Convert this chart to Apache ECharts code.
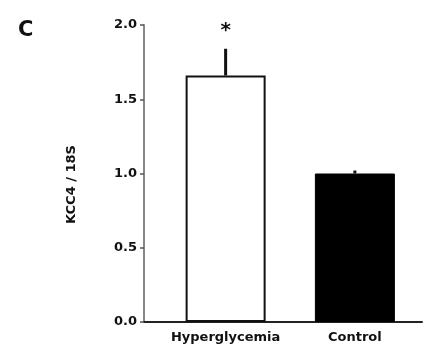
<!DOCTYPE html>
<html>
<head>
<meta charset="utf-8">
<script src="https://cdn.jsdelivr.net/npm/echarts@6/dist/echarts.min.js"></script>
<style>html,body{margin:0;padding:0;background:#fff;}#c{width:428px;height:352px;}</style>
</head>
<body>
<div id="c"></div>
<script>
const categories = ['Hyperglycemia', 'Control'];
const means = [1.66, 1.0];
const errUpper = [1.84, 1.02];
const sigMarks = ['*', ''];
const yTicks = [0, 0.5, 1.0, 1.5, 2.0];

const chart = echarts.init(document.getElementById('c'), null, {renderer: 'canvas'});
const font = 'DejaVu Sans';
chart.setOption({
  animation: false,
  backgroundColor: '#fff',
  title: {text: 'C', left: 13, top: 15, textStyle: {fontFamily: font, fontWeight: 'bold', fontSize: 21, color: '#111'}},
  grid: [
    {left: 161, right: 8.5, top: 25, bottom: 30},
    {left: 144, right: 6, top: 25, bottom: 30}
  ],
  xAxis: [
    {type: 'category', gridIndex: 0, data: categories,
      axisLine: {show: false}, axisTick: {show: false},
      axisLabel: {interval: 0, fontFamily: font, fontWeight: 'bold', fontSize: 13, color: '#111', margin: 9}},
    {type: 'value', gridIndex: 1, min: 0, max: 1,
      axisLine: {show: true, lineStyle: {color: '#222', width: 2}},
      axisTick: {show: false}, axisLabel: {show: false}, splitLine: {show: false}}
  ],
  yAxis: [
    {type: 'value', gridIndex: 0, min: yTicks[0], max: yTicks[yTicks.length - 1], interval: 0.5, offset: 17,
      name: 'KCC4 / 18S', nameLocation: 'middle', nameGap: 66, nameRotate: 90,
      nameTextStyle: {fontFamily: font, fontWeight: 'bold', fontSize: 13, color: '#111', padding: [0, 0, 0, -22]},
      axisLine: {show: true, lineStyle: {color: '#888', width: 2}},
      axisTick: {show: true, length: 4, lineStyle: {color: '#555', width: 1.5}},
      axisLabel: {fontFamily: font, fontWeight: 'bold', fontSize: 13, color: '#111', margin: 7,
        formatter: v => v.toFixed(1)},
      splitLine: {show: false}},
    {type: 'value', gridIndex: 1, min: 0, max: 1, show: false}
  ],
  series: [
    {type: 'bar', xAxisIndex: 0, yAxisIndex: 0, barWidth: 80,
      data: means.map((v, i) => ({value: v, itemStyle: i === 0
        ? {color: '#fff', borderColor: '#111', borderWidth: 2}
        : {color: '#000', borderColor: '#000', borderWidth: 1}}))},
    {type: 'custom', xAxisIndex: 0, yAxisIndex: 0, z: 5,
      data: categories.map((c, i) => [i, means[i], errUpper[i], sigMarks[i]]),
      renderItem: function (params, api) {
        const x = api.value(0);
        const base = api.coord([x, api.value(1)]);
        const top = api.coord([x, api.value(2)]);
        const children = [{
          type: 'line', shape: {x1: base[0], y1: base[1], x2: top[0], y2: top[1]},
          style: {stroke: '#111', lineWidth: 3}
        }];
        const mark = sigMarks[params.dataIndex];
        if (mark) {
          children.push({type: 'text', style: {text: mark, x: top[0], y: top[1] - 8,
            textAlign: 'center', textVerticalAlign: 'bottom',
            font: 'bold 20px ' + font, fill: '#111'}});
        }
        return {type: 'group', children: children};
      }}
  ]
});
</script>
</body>
</html>
